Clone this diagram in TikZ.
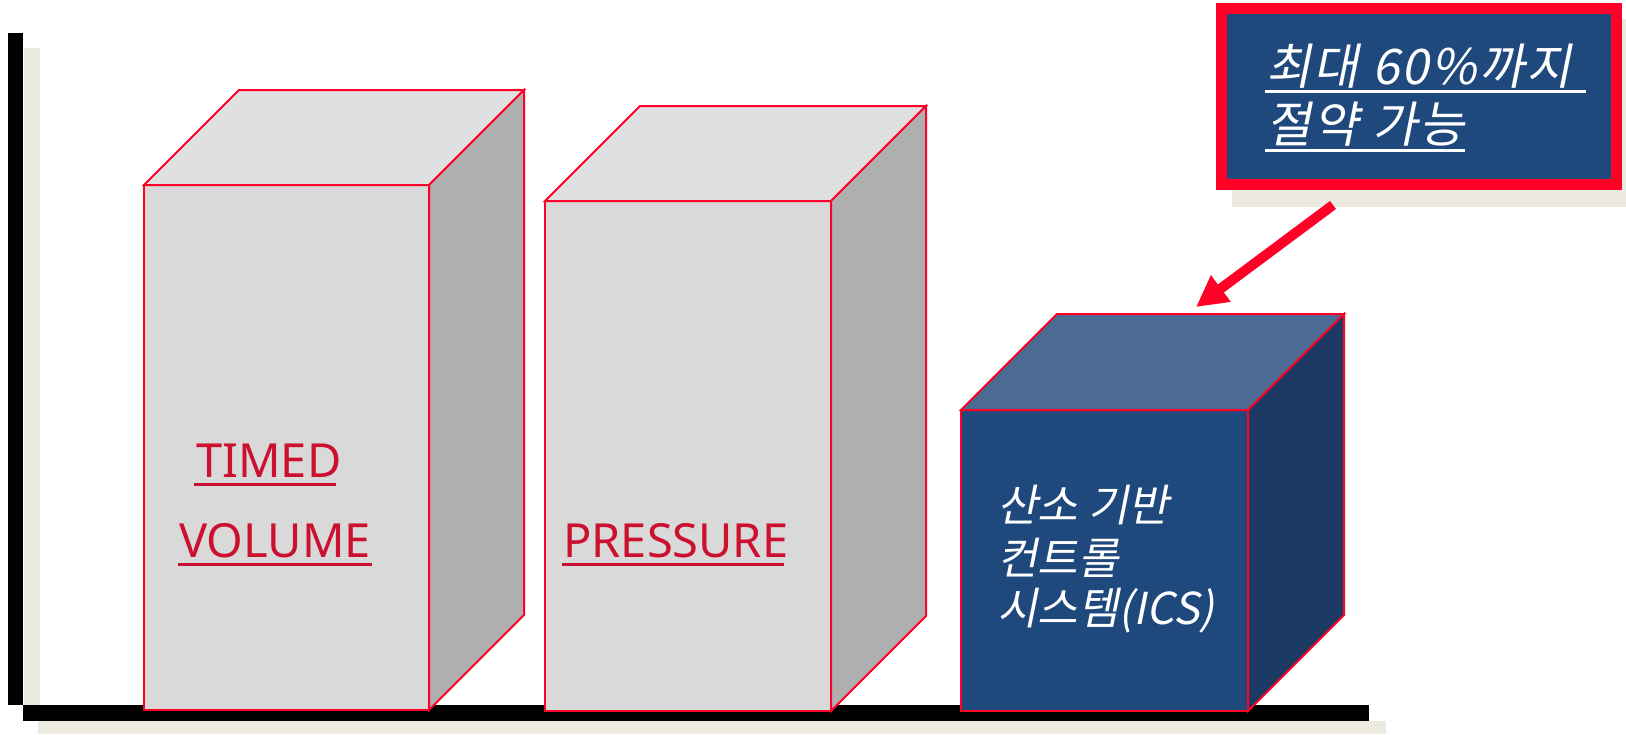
\documentclass[tikz,border=0pt]{standalone}
\usepackage{fontspec}
\setmainfont{Noto Sans}
\newfontfamily\krfont[FakeSlant=0.2]{Noto Sans CJK KR}
\newfontfamily\krwide[FakeSlant=0.2,LetterSpace=5]{Noto Sans CJK KR}
\usetikzlibrary{arrows.meta}
\definecolor{redline}{RGB}{255,0,38}
\definecolor{redtext}{RGB}{204,16,48}
\definecolor{beige}{RGB}{237,235,224}
\definecolor{greyfront}{RGB}{217,217,217}
\definecolor{greytop}{RGB}{224,224,224}
\definecolor{greyside}{RGB}{175,175,175}
\definecolor{bluefront}{RGB}{31,73,125}
\definecolor{bluetop}{RGB}{76,107,148}
\definecolor{blueside}{RGB}{28,58,99}
\tikzset{
  face/.style={draw=redline, line width=2pt, line join=miter},
  lbl/.style={inner sep=0pt, text=redtext, font=\fontsize{47}{56}\selectfont, anchor=base west},
  krw/.style={inner sep=0pt, text=white, font=\krfont\fontsize{44}{52}\selectfont, anchor=base west},
  krbig/.style={inner sep=0pt, text=white, font=\krwide\fontsize{49}{57}\selectfont, anchor=base west},
  ulred/.style={draw=redtext, line width=3pt},
  ulwhite/.style={draw=white, line width=3pt},
}
% #1 x left, #2 x right, #3 y top, #4 y bottom, #5 depth, #6 front, #7 top, #8 side
\newcommand\mycube[8]{%
  \path[face, fill=#6] (#1,#3) rectangle (#2,#4);
  \path[face, fill=#7] (#1,#3) -- ({#1+#5},{#3-#5}) -- ({#2+#5},{#3-#5}) -- (#2,#3) -- cycle;
  \path[face, fill=#8] (#2,#3) -- ({#2+#5},{#3-#5}) -- ({#2+#5},{#4-#5}) -- (#2,#4) -- cycle;
}
\begin{document}
\begin{tikzpicture}[x=1pt,y=-1pt]
\useasboundingbox (0,0) rectangle (1626,734);
% axes with shadows
\fill[beige] (24,48) rectangle (40,705);
\fill[beige] (38,721) rectangle (1386,734);
\fill[black] (8,33) rectangle (23,705);
\fill[black] (23,705) rectangle (1369,721);
% cubes
\mycube{144}{429}{185}{710}{95}{greyfront}{greytop}{greyside}
\mycube{545}{831}{201}{711}{95}{greyfront}{greytop}{greyside}
\mycube{961}{1248}{410}{711}{96}{bluefront}{bluetop}{blueside}
% labels in grey cubes
\node[lbl] (timed) at (196,477) {TIMED};
\draw[ulred] ([xshift=-2pt,yshift=-7pt]timed.base west) -- ([xshift=-6pt,yshift=-7pt]timed.base east);
\node[lbl] (volume) at (179,557) {VOLUME};
\draw[ulred] ([xshift=-1pt,yshift=-7pt]volume.base west) -- ([xshift=1pt,yshift=-7pt]volume.base east);
\node[lbl] (pressure) at (563,557) {PRESSURE};
\draw[ulred] ([xshift=-1pt,yshift=-7pt]pressure.base west) -- ([xshift=-5pt,yshift=-7pt]pressure.base east);
% label in blue cube
\node[krw] (ics1) at (997,521) {산소 기반};
\node[krw] (ics2) at (997,574) {컨트롤};
\node[krw] (ics3) at (997,624) {시스템(ICS)};
% callout box
\fill[beige] (1232,19) rectangle (1640,207);
\node[draw=redline, line width=11pt, fill=bluefront, minimum width=394.5pt, minimum height=176pt, inner sep=0pt] (savebox) at (1418.75,96.5) {};
\node[krbig] (sv1) at (1266,84) {최대 60\%까지};
\draw[ulwhite] ([xshift=-1pt,yshift=-7pt]sv1.base west) -- ([xshift=14pt,yshift=-7pt]sv1.base east);
\node[krbig] (sv2) at (1266,142) {절약 가능};
\draw[ulwhite] ([xshift=-1pt,yshift=-8pt]sv2.base west) -- ([xshift=0pt,yshift=-8pt]sv2.base east);
% arrow
\coordinate (arrS) at (1333,205);
\coordinate (arrT) at (1196,307);
\draw[redline, line width=10pt, -{Triangle[length=31pt,width=31pt]}] (arrS) -- (arrT);
\end{tikzpicture}
\end{document}
